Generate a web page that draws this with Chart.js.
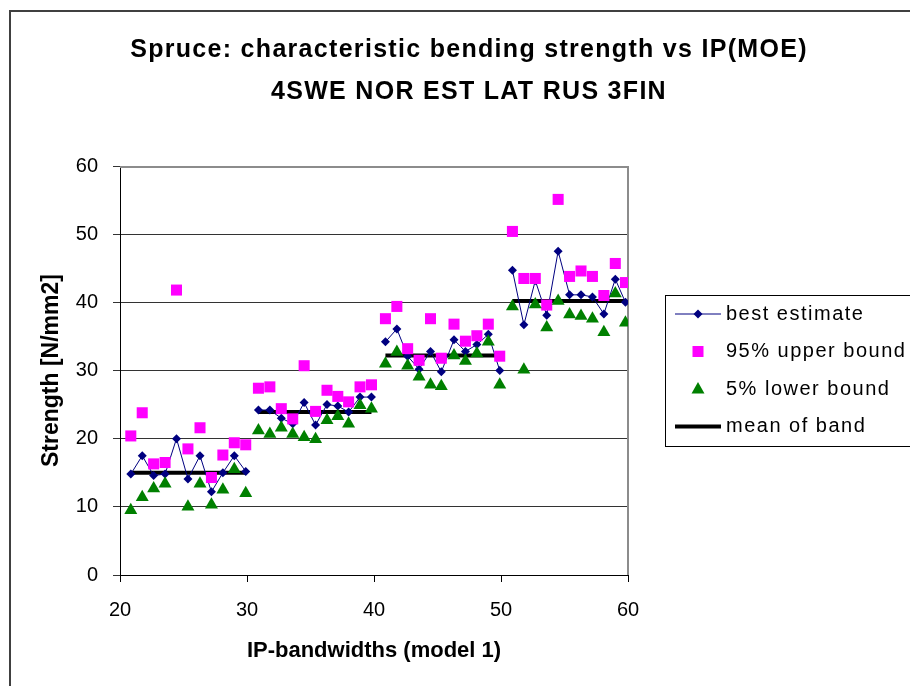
<!DOCTYPE html>
<html>
<head>
<meta charset="utf-8">
<script src="https://cdn.jsdelivr.net/npm/chart.js@4.4.1/dist/chart.umd.min.js"></script>
<style>
  html, body { margin: 0; padding: 0; background: #fff; }
  #chart { display: block; }
</style>
</head>
<body>
<canvas id="chart" width="910" height="686"></canvas>
<script>
// IP positions, four bands of eleven points each
const ipBandX = [
    20.85, 21.75, 22.65, 23.55, 24.45, 25.35, 26.3, 27.2, 28.1, 29.0, 29.9,
    30.9, 31.8, 32.7, 33.6, 34.5, 35.4, 36.3, 37.15, 38.0, 38.9, 39.8,
    40.9, 41.8, 42.65, 43.55, 44.45, 45.3, 46.3, 47.2, 48.1, 49.0, 49.9,
    50.9, 51.8, 52.7, 53.6, 54.5, 55.4, 56.3, 57.2, 58.1, 59.0, 59.8
];
const bestEstimate = [
    14.8, 17.5, 14.6, 14.8, 20.0, 14.1, 17.5, 12.2, 15.0, 17.5, 15.2,
    24.2, 24.2, 23.0, 22.2, 25.3, 22.0, 25.0, 24.8, 23.9, 26.1, 26.1,
    34.2, 36.1, 32.1, 30.2, 32.8, 29.8, 34.5, 32.8, 33.8, 35.3, 30.0,
    44.7, 36.7, 43.2, 38.1, 47.5, 41.1, 41.1, 40.8, 38.3, 43.4, 40.0
];
const upperBound = [
    20.4, 23.8, 16.3, 16.5, 41.8, 18.5, 21.6, 14.3, 17.6, 19.4, 19.1,
    27.4, 27.6, 24.4, 22.9, 30.7, 24.0, 27.1, 26.2, 25.4, 27.6, 27.9,
    37.6, 39.4, 33.2, 31.5, 37.6, 31.8, 36.8, 34.3, 35.1, 36.8, 32.1,
    50.4, 43.5, 43.5, 39.6, 55.1, 43.8, 44.6, 43.8, 41.0, 45.7, 42.9
];
const lowerBound = [
    9.5, 11.4, 12.7, 13.4, null, 10.0, 13.4, 10.3, 12.5, 15.5, 12.0,
    21.2, 20.7, 21.6, 20.7, 20.2, 19.9, 22.7, 23.3, 22.2, 24.9, 24.4,
    31.0, 32.7, 30.7, 29.1, 27.9, 27.7, 32.2, 31.4, 32.5, 34.2, 27.9,
    39.4, 30.1, 39.7, 36.3, 40.2, 38.2, 38.0, 37.6, 35.6, 41.3, 37.0
];
const bandMeans = [15.0, 23.9, 32.2, 40.2];
const xTicks = [20, 30, 40, 50, 60];
const yTicks = [0, 10, 20, 30, 40, 50, 60];
const titleLines = ['Spruce: characteristic bending strength vs IP(MOE)', '4SWE NOR EST LAT RUS 3FIN'];
const bandSize = 11;

const FONT = "'Liberation Sans', Arial, sans-serif";

// put a null between bands so the line breaks there
function banded(values) {
    const pts = [];
    values.forEach((v, i) => {
        if (i > 0 && i % bandSize === 0) pts.push({ x: (ipBandX[i - 1] + ipBandX[i]) / 2, y: null });
        pts.push({ x: ipBandX[i], y: v });
    });
    return pts;
}

const meanPoints = [];
bandMeans.forEach((m, b) => {
    const first = ipBandX[b * bandSize];
    const last = ipBandX[b * bandSize + bandSize - 1];
    if (b > 0) meanPoints.push({ x: first - 0.5, y: null });
    meanPoints.push({ x: first, y: m }, { x: last, y: m });
});

// outer frame, title and the gray plot border
const frame = {
    id: 'frame',
    beforeDraw(chart) {
        const ctx = chart.ctx;
        ctx.save();
        ctx.fillStyle = '#fff';
        ctx.fillRect(0, 0, chart.width, chart.height);
        ctx.strokeStyle = '#404040';
        ctx.lineWidth = 2;
        ctx.strokeRect(10, 11, 1000, 1000);

        ctx.fillStyle = '#000';
        ctx.font = 'bold 25px ' + FONT;
        ctx.letterSpacing = '1.3px';
        ctx.textAlign = 'center';
        ctx.textBaseline = 'middle';
        ctx.fillText(titleLines[0], 469, 50);
        ctx.fillText(titleLines[1], 469, 92);
        ctx.restore();
    },
    beforeDatasetsDraw(chart) {
        const { ctx, chartArea: a } = chart;
        ctx.save();
        ctx.strokeStyle = '#8c8c8c';
        ctx.lineWidth = 2;
        ctx.beginPath();
        ctx.moveTo(a.left, a.top + 1);
        ctx.lineTo(a.right, a.top + 1);
        ctx.lineTo(a.right, a.bottom);
        ctx.stroke();
        ctx.restore();
    }
};

function marker(ctx, style, x, y) {
    ctx.beginPath();
    if (style === 'rectRot') {
        ctx.moveTo(x - 4.5, y); ctx.lineTo(x, y - 4.5); ctx.lineTo(x + 4.5, y); ctx.lineTo(x, y + 4.5);
    } else if (style === 'rect') {
        ctx.rect(x - 5.5, y - 5.5, 11, 11);
    } else if (style === 'triangle') {
        ctx.moveTo(x, y - 7); ctx.lineTo(x + 6.5, y + 4.5); ctx.lineTo(x - 6.5, y + 4.5);
    }
    ctx.closePath();
    ctx.fill();
}

// legend box, partly off the right edge like the original
const legendBox = {
    id: 'legendBox',
    afterDraw(chart) {
        const ctx = chart.ctx;
        const order = ['best', 'upper', 'lower', 'mean'];
        ctx.save();
        ctx.strokeStyle = '#000';
        ctx.lineWidth = 1;
        ctx.strokeRect(665.5, 295.5, 300, 151);
        ctx.font = '20px ' + FONT;
        ctx.letterSpacing = '1.5px';
        ctx.textBaseline = 'middle';
        ctx.fillStyle = '#000';
        order.forEach((key, i) => {
            const ds = chart.data.datasets.find(d => d.key === key);
            const y = 314 + i * 37.5;
            if (ds.showLine) {
                ctx.strokeStyle = ds.borderColor;
                ctx.lineWidth = ds.borderWidth;
                ctx.beginPath();
                ctx.moveTo(675, y);
                ctx.lineTo(721, y);
                ctx.stroke();
            }
            if (ds.pointRadius > 0) {
                ctx.fillStyle = ds.backgroundColor;
                marker(ctx, ds.pointStyle, 698, y);
            }
            ctx.fillStyle = '#000';
            ctx.fillText(ds.label, 726, y);
        });
        ctx.restore();
    }
};

Chart.defaults.font.family = FONT;
Chart.defaults.color = '#000';

new Chart(document.getElementById('chart'), {
    type: 'scatter',
    data: {
        datasets: [
            {
                key: 'best', label: 'best estimate', data: banded(bestEstimate),
                showLine: true, spanGaps: false, borderColor: '#000080', borderWidth: 1,
                backgroundColor: '#000080', pointStyle: 'rectRot', pointRadius: 4.5,
                pointBorderWidth: 0, order: 3
            },
            {
                key: 'upper', label: '95% upper bound', data: banded(upperBound),
                backgroundColor: '#ff00ff', borderColor: '#ff00ff', pointStyle: 'rect',
                pointRadius: 7.8, pointBorderWidth: 0, order: 2
            },
            {
                key: 'lower', label: '5% lower bound', data: banded(lowerBound),
                backgroundColor: '#008000', borderColor: '#008000', pointStyle: 'triangle',
                pointRadius: 7.5, pointBorderWidth: 0, order: 1
            },
            {
                key: 'mean', label: 'mean of band', data: meanPoints,
                showLine: true, spanGaps: false, borderColor: '#000', borderWidth: 4,
                backgroundColor: '#000', pointRadius: 0, borderCapStyle: 'butt', order: 4
            }
        ]
    },
    options: {
        responsive: false,
        animation: false,
        layout: { padding: { top: 166, right: 282, bottom: 0, left: 0 } },
        plugins: {
            legend: { display: false },
            tooltip: { enabled: false }
        },
        scales: {
            x: {
                type: 'linear', min: 20, max: 60,
                afterBuildTicks: s => { s.ticks = xTicks.map(v => ({ value: v })); },
                afterFit: s => { s.height = 111; },
                grid: { drawOnChartArea: false, drawTicks: true, tickLength: 7, color: '#000', lineWidth: 1 },
                border: { color: '#000', width: 1 },
                ticks: { font: { size: 20 }, color: '#000', padding: 16, maxRotation: 0 },
                title: {
                    display: true, text: 'IP-bandwidths (model 1)', color: '#000',
                    font: { size: 22, weight: 'bold' }, padding: { top: 0, bottom: 22 }
                }
            },
            y: {
                type: 'linear', min: 0, max: 60,
                afterBuildTicks: s => { s.ticks = yTicks.map(v => ({ value: v })); },
                afterFit: s => { s.width = 120; },
                grid: { color: '#333', lineWidth: 1, tickLength: 7 },
                border: { color: '#000', width: 1 },
                ticks: { font: { size: 20 }, color: '#000', padding: 15 },
                title: {
                    display: true, text: 'Strength [N/mm2]', color: '#000',
                    font: { size: 23, weight: 'bold' }, padding: { top: 38, bottom: 0 }
                }
            }
        }
    },
    plugins: [frame, legendBox]
});
</script>
</body>
</html>
